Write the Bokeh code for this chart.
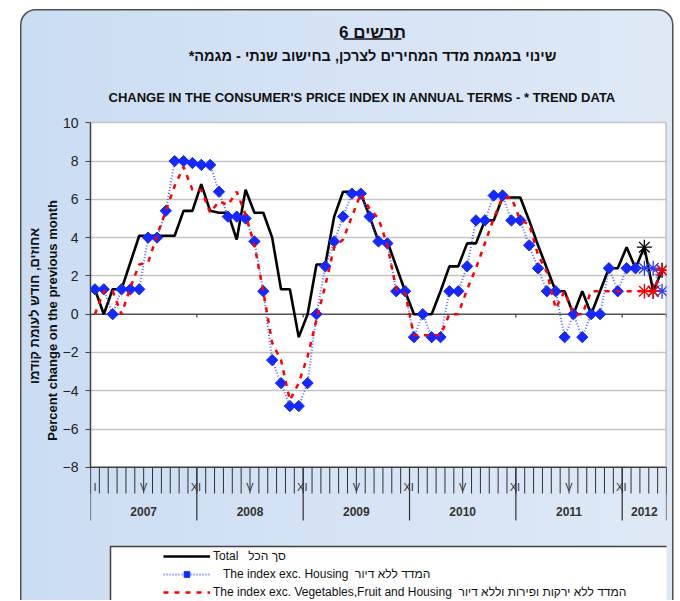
from urllib.parse import quote
from bokeh.plotting import figure
from bokeh.models import Range1d, LinearAxis, FixedTicker, Span, Legend, LegendItem
from bokeh.core.properties import value
from bokeh.embed import file_html
from bokeh.resources import INLINE

# ---------------- data ----------------
years = ["2007", "2008", "2009", "2010", "2011", "2012"]
months_in_year = [12, 12, 12, 12, 12, 5]
month_marks = ["I", "V", "XI"]

total = [1.3, 0.0, 1.3, 1.3, 2.7, 4.1, 4.1, 4.1, 4.1, 4.1,
         5.4, 5.4, 6.8, 5.4, 5.3, 5.3, 3.9, 6.5, 5.3, 5.3,
         4.0, 1.3, 1.3, -1.2, 0.0, 2.6, 2.6, 5.1, 6.4, 6.4,
         6.3, 5.1, 3.8, 3.8, 2.5, 1.2, 0.0, 0.0, 0.0, 1.2,
         2.5, 2.5, 3.7, 3.7, 4.9, 4.9, 6.1, 6.1, 6.1, 4.9,
         3.6, 2.4, 1.2, 1.2, 0.0, 1.2, 0.0, 1.2, 2.4, 2.4,
         3.5, 2.4, 3.5, 1.2, 2.3]
exc_housing = [1.3, 1.3, 0.0, 1.3, 1.3, 1.3, 4.0, 4.0, 5.4, 8.0,
               8.0, 7.9, 7.8, 7.8, 6.4, 5.1, 5.1, 5.0, 3.8, 1.2,
               -2.4, -3.6, -4.8, -4.8, -3.6, 0.0, 2.5, 3.8, 5.1, 6.3,
               6.3, 5.1, 3.8, 3.7, 1.2, 1.2, -1.2, 0.0, -1.2, -1.2,
               1.2, 1.2, 2.5, 4.9, 4.9, 6.2, 6.2, 4.9, 4.9, 3.6,
               2.4, 1.2, 1.2, -1.2, 0.0, -1.2, 0.0, 0.0, 2.4, 1.2,
               2.4, 2.4, 2.4, 2.4, 1.2]
exc_veg_fruit_housing = [0.0, 1.2, 1.2, 0.0, 1.4, 2.6, 2.7, 4.1, 5.4, 6.7,
                         7.7, 6.5, 6.5, 5.3, 5.9, 5.7, 6.4, 5.2, 3.6, 1.2,
                         -1.5, -2.4, -4.5, -3.6, -2.2, -0.3, 1.5, 3.5, 3.9, 5.1,
                         6.3, 5.5, 5.0, 3.6, 1.3, 1.1, -1.1, -1.1, -1.1, -1.1,
                         0.0, 0.0, 1.3, 2.4, 3.7, 5.0, 6.1, 6.1, 4.9, 4.7,
                         3.1, 2.2, 0.3, 1.2, 0.0, 0.0, 1.2, 1.2, 1.2, 1.2,
                         1.2, 1.2, 1.2, 1.2, 2.3]
n_estimated = 3  # last points drawn with asterisks
y_ticks = [-8, -6, -4, -2, 0, 2, 4, 6, 8, 10]

RLM = "\u200f"   # right-to-left mark keeps neutrals inside the Hebrew run
title_num = RLM + "תרשים 6" + RLM
title_he = "שינוי במגמת מדד המחירים לצרכן, בחישוב שנתי - מגמה*" + RLM
title_en = "CHANGE IN THE CONSUMER'S PRICE INDEX IN ANNUAL TERMS -  * TREND DATA"
ylabel_en = "Percent change on the previous month"
ylabel_he = "אחוזים, חודש לעומת קודמו"
legend_labels = ["Total\u00a0\u00a0\u00a0סך הכל",
                 "\u00a0\u00a0\u00a0The index exc. Housing\u00a0\u00a0המדד ללא דיור",
                 "The index exc. Vegetables,Fruit and Housing\u00a0\u00a0המדד ללא ירקות ופירות וללא דיור"]

# ---------------- layout helpers (page pixels) ----------------
W, H = 679, 600
ML = 90
MR = 13
n = sum(months_in_year)
PXM = (W - ML - MR) / n     # px per month
Y10, YM8 = 122.3, 466.8     # page y of 10 and -8
PPU = (YM8 - Y10) / 18.0


def X(px):
    return (px - ML) / PXM


def Y(py):
    return 10 - (py - Y10) / PPU


y_top = Y(0)
y_bot = Y(H)
FONT_NAME = "Liberation Sans"
FONT = value(FONT_NAME)

p = figure(width=W, height=H, x_range=Range1d(0, n), y_range=Range1d(y_bot, y_top),
           output_backend="svg", toolbar_location=None,
           x_axis_location=None, y_axis_location=None,
           min_border_left=ML, min_border_right=MR, min_border_top=0, min_border_bottom=0)
p.border_fill_color = None
p.background_fill_color = None
p.outline_line_color = None

bg_svg = ("<svg xmlns='http://www.w3.org/2000/svg' width='%d' height='%d'>"
          "<defs><linearGradient id='g' x1='0' x2='1' y1='0' y2='0'>"
          "<stop offset='0' stop-color='#cbddf3'/><stop offset='1' stop-color='#dfe9f6'/>"
          "</linearGradient></defs>"
          "<rect x='20.75' y='9.75' width='652' height='700' rx='15' ry='15' "
          "fill='url(#g)' stroke='#505050' stroke-width='1.5'/></svg>") % (W, H)
p.styles = {"background-image": 'url("data:image/svg+xml,' + quote(bg_svg) + '")',
            "background-repeat": "no-repeat"}

# y axes
ax1 = LinearAxis(ticker=FixedTicker(ticks=y_ticks), bounds=(-8, 10),
                 axis_label=ylabel_en + "\u00a0" * 11,
                 axis_label_text_font=FONT_NAME, axis_label_text_font_style="bold",
                 axis_label_text_font_size="13px", axis_label_text_color="#111111",
                 axis_label_standoff=0,
                 major_label_text_font=FONT_NAME, major_label_text_font_size="14px",
                 major_label_text_color="#222222", major_label_standoff=7,
                 major_tick_out=5, major_tick_in=0, minor_tick_out=0, minor_tick_in=0,
                 major_tick_line_color="#404040", axis_line_color="#404040",
                 axis_line_width=1.5)
ax2 = LinearAxis(ticker=FixedTicker(ticks=[]), axis_label=ylabel_he + "\u00a0" * 3,
                 axis_label_text_font=FONT_NAME, axis_label_text_font_style="bold",
                 axis_label_text_font_size="13px", axis_label_text_color="#111111",
                 axis_label_standoff=0, axis_line_color=None,
                 major_tick_out=0, major_tick_in=0, minor_tick_out=0, minor_tick_in=0,
                 major_label_text_font_size="0px")
p.add_layout(ax1, "left")
p.add_layout(ax2, "left")

# grid
p.xgrid.visible = False
p.ygrid.ticker = FixedTicker(ticks=[t for t in y_ticks if t not in (0, -8)])
p.ygrid.grid_line_color = "#c4c4c4"
p.ygrid.grid_line_width = 1.6

# plot area
p.quad(left=0, right=n, bottom=-8, top=10, fill_color="white", line_color=None, level="image")
p.add_layout(Span(location=0, dimension="width", line_color="#505050", line_width=1.6, level="underlay"))
p.add_layout(Span(location=-8, dimension="width", line_color="#404040", line_width=1.6, level="underlay"))
p.segment(x0=[n], x1=[n], y0=[-8], y1=[10], line_color="#a8a8a8", line_width=2)

# category axis: month ticks, year ticks, labels
bounds = [0]
for m in months_in_year:
    bounds.append(bounds[-1] + m)
month_edges = list(range(n + 1))
p.segment(x0=month_edges, x1=month_edges, y0=[-8] * len(month_edges), y1=[Y(493)] * len(month_edges),
          line_color="#303030", line_width=1)
p.segment(x0=bounds, x1=bounds, y0=[-8] * len(bounds), y1=[Y(520)] * len(bounds),
          line_color="#303030", line_width=1.2)
p.segment(x0=bounds, x1=bounds, y0=[0] * len(bounds), y1=[Y(317)] * len(bounds),
          line_color="#404040", line_width=1.2)

ml_x, ml_t = [0.5], [month_marks[0]]
for k, m in enumerate(months_in_year):
    if m == 12:
        ml_x += [bounds[k] + 6.0, bounds[k] + 11.9]
        ml_t += [month_marks[1], month_marks[2]]
p.text(x=ml_x, y=[Y(486)] * len(ml_x), text=ml_t, text_font=FONT, text_font_size="11px",
       text_color="#333333", text_align="center", text_baseline="middle")
yl_x = [(bounds[k] + bounds[k + 1]) / 2 for k in range(len(years))]
p.text(x=yl_x, y=[Y(511)] * len(years), text=years, text_font=FONT, text_font_size="12px",
       text_font_style="bold", text_color="#333333", text_align="center", text_baseline="middle")

# titles
p.text(x=[X(372)], y=[Y(31.5)], text=[title_num], text_font=FONT, text_font_size="17px",
       text_font_style="bold", text_color="#111111", text_align="center", text_baseline="middle")
p.segment(x0=[X(343)], x1=[X(401)], y0=[Y(38.5)], y1=[Y(38.5)], line_color="#111111", line_width=1.3)
p.text(x=[X(372)], y=[Y(55)], text=[title_he], text_font=FONT, text_font_size="14.5px",
       text_font_style="bold", text_color="#111111", text_align="center", text_baseline="middle")
p.text(x=[X(108)], y=[Y(97)], text=[title_en], text_font=FONT, text_font_size="13px",
       text_font_style="bold", text_color="#111111", text_align="left", text_baseline="middle")

# data
xs = [i + 0.5 for i in range(n)]
k_est = n - n_estimated
r_total = p.line(xs, total, line_color="black", line_width=2.6)
r_blue = p.line(xs, exc_housing, line_color="#3b4dff", line_width=2, line_dash="1 2", line_alpha=0.85)
r_blue_m = p.scatter(xs[:k_est], exc_housing[:k_est], marker="square", angle=0.785, size=8,
                     fill_color="#1428ff", line_color="#1428ff")
r_red = p.line(xs, exc_veg_fruit_housing, line_color="#ff0000", line_width=2.5, line_dash="5 6")
p.scatter(xs[k_est:], total[k_est:], marker="asterisk", size=15, line_color="black", line_width=1.3)
p.scatter(xs[k_est:], exc_housing[k_est:], marker="asterisk", size=15, line_color="#2a3cff", line_width=1.3)
p.scatter(xs[k_est:], exc_veg_fruit_housing[k_est:], marker="asterisk", size=15, line_color="#ff0000",
          line_width=1.3)

# legend
p.quad(left=[X(110)], right=[n + 1], top=[Y(546)], bottom=[y_bot - 2], fill_color="white",
       line_color="#404040", line_width=1.5)
legend = Legend(items=[LegendItem(label=legend_labels[0], renderers=[r_total]),
                       LegendItem(label=legend_labels[1], renderers=[r_blue, r_blue_m]),
                       LegendItem(label=legend_labels[2], renderers=[r_red])],
                location=(163 - ML, 1), orientation="vertical",
                label_text_font=FONT_NAME, label_text_font_size="12px", label_text_color="#111111",
                glyph_width=47, glyph_height=14, label_height=14, label_standoff=3,
                spacing=4, padding=0, margin=0, border_line_color=None,
                background_fill_alpha=0)
p.add_layout(legend)

open("out.html", "w").write(file_html(p, INLINE))
